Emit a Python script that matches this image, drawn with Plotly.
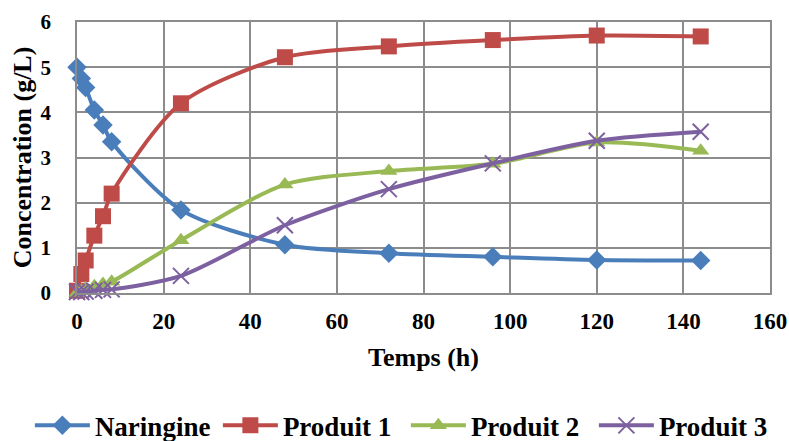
import plotly.graph_objects as go

temps = [0, 1, 2, 4, 6, 8, 24, 48, 72, 96, 120, 144]
naringine = [5.0, 4.75, 4.55, 4.05, 3.72, 3.35, 1.84, 1.07, 0.88, 0.80, 0.73, 0.72]
produit1 = [0.05, 0.42, 0.72, 1.27, 1.7, 2.2, 4.2, 5.22, 5.46, 5.6, 5.7, 5.68]
produit2 = [0.0, 0.05, 0.1, 0.15, 0.2, 0.25, 1.17, 2.4, 2.7, 2.86, 3.33, 3.15]
produit3 = [0.02, 0.02, 0.03, 0.05, 0.07, 0.08, 0.38, 1.5, 2.3, 2.87, 3.37, 3.57]

series = [
    ("Naringine", naringine, "#4A7EBB", "diamond", 15, None),
    ("Produit 1", produit1, "#BE4B48", "square", 16, None),
    ("Produit 2", produit2, "#98B954", "triangle-up", 15, None),
    ("Produit 3", produit3, "#7D60A0", "x-thin", 16, 2),
]

FONT = "Liberation Serif"
fig = go.Figure()
for name, ys, color, sym, size, lw in series:
    marker = dict(symbol=sym, size=size, color=color)
    if lw:
        marker["line"] = dict(color=color, width=lw)
    fig.add_trace(go.Scatter(
        x=temps, y=ys, name=name, mode="lines+markers",
        line=dict(color=color, width=4, shape="spline", smoothing=0.8),
        marker=marker, cliponaxis=False,
    ))

axis_common = dict(
    showgrid=True, gridcolor="#8C8C8C", gridwidth=1.5,
    showline=True, linecolor="#8C8C8C", linewidth=1.5, mirror=True,
    zeroline=False, ticks="outside", tickcolor="rgba(0,0,0,0)",
    automargin=False,
)

H = 470
fig.update_layout(
    width=789, height=H,
    margin=dict(l=77, r=19, t=22, b=H - 293),
    paper_bgcolor="white", plot_bgcolor="white",
    xaxis=dict(range=[0, 160], dtick=20, ticklen=7,
               tickfont=dict(family=FONT, size=23, color="black", weight="bold"),
               title=dict(text="Temps (h)", font=dict(family=FONT, size=26, color="black", weight="bold"), standoff=14),
               **axis_common),
    yaxis=dict(range=[0, 6], dtick=1, ticklen=20,
               tickfont=dict(family=FONT, size=21, color="black", weight="bold"),
               title=dict(text="Concentration (g/L)", font=dict(family=FONT, size=26, color="black", weight="bold"), standoff=1),
               **axis_common),
    legend=dict(orientation="h", x=-0.068, xanchor="left", y=-0.49, yanchor="middle",
                font=dict(family=FONT, size=27, color="black", weight="bold"),
                itemwidth=55, entrywidth=118, tracegroupgap=0),
    showlegend=True,
)

fig.write_html(
    "out.html",
    config={"displayModeBar": False},
    post_script="document.body.style.margin='0';document.body.style.overflow='hidden';",
)
